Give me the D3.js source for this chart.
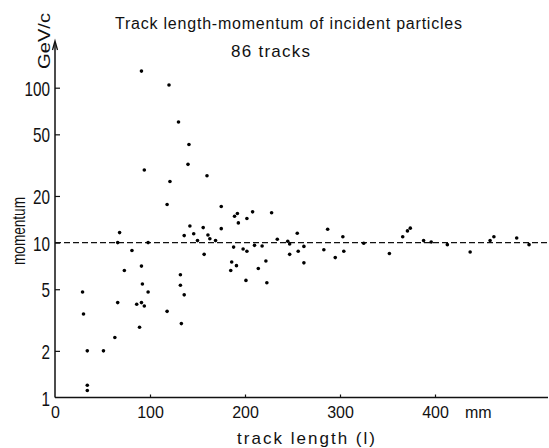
<!DOCTYPE html>
<html>

<head>
    <title>Track length - momentum</title>
    <meta charset="utf-8">
    <style>
        body { margin: 0; background: #fff; }
        svg text { font-family: "Liberation Sans", Arial, sans-serif; fill: #111; }
    </style>
</head>
<script src="https://d3js.org/d3.v7.min.js"></script>

<body>
    <div id="chart"></div>
    <script>
        // track length in mm
        const trackLength = [
            91, 120, 130, 141, 140, 94, 160, 121, 118, 175,
            68, 142, 156, 136, 146, 150, 161, 163, 169, 175,
            189, 192, 193, 202, 208, 228, 81, 157, 91, 73,
            132, 92, 132, 29, 98, 136, 66, 86, 91, 94,
            118, 30, 133, 89, 63, 34, 51, 34, 34, 188,
            198, 202, 210, 218, 234, 245, 247, 255, 262, 256,
            247, 186, 191, 185, 222, 214, 262, 201, 223, 287,
            283, 295, 303, 304, 325, 352, 366, 371, 374, 388,
            396, 413, 437, 458, 462, 486, 499, 66, 98
        ];
        // momentum in GeV/c, same order
        const momentum = [
            128, 104, 60, 43, 32, 29.4, 27, 24.8, 17.6, 17.1,
            11.6, 12.8, 12.5, 11.1, 11.4, 10.3, 11.2, 10.6, 10.3, 12.3,
            14.8, 15.4, 13.4, 14.3, 15.8, 15.6, 8.9, 8.4, 7.05, 6.6,
            6.2, 5.4, 5.3, 4.8, 4.8, 4.6, 4.1, 4.0, 4.1, 3.9,
            3.6, 3.46, 3.0, 2.84, 2.44, 2.0, 2.0, 1.2, 1.11, 9.35,
            9.1, 8.8, 9.6, 9.5, 10.5, 10.2, 9.8, 11.5, 9.45, 8.8,
            8.4, 7.5, 7.1, 6.6, 7.6, 6.8, 7.4, 5.7, 5.5, 12.2,
            9.0, 8.0, 10.9, 8.8, 9.9, 8.5, 10.9, 11.9, 12.4, 10.3,
            10.1, 9.7, 8.7, 10.3, 10.9, 10.7, 9.7, 10.0, 10.0
        ];
        const xTicks = [100, 200, 300, 400];
        const xTickLabels = [0, 100, 200, 300, 400];
        const yTicks = [1, 2, 5, 10, 20, 50, 100];
        const refMomentum = 10;

        const width = 549,
            height = 448;

        var points = trackLength.map(function (l, i) {
            return { length: l, p: momentum[i] };
        });
        console.log("points: " + points.length);

        var svg = d3.select("#chart").append("svg")
            .attr("width", width)
            .attr("height", height);

        var x = d3.scaleLinear().domain([0, 520]).range([55, 549]);
        var y = d3.scaleLog().domain([1, 100]).range([397.5, 87.7]);

        // y axis (ticks point inward)
        var yAxis = svg.append("g")
            .attr("transform", "translate(" + x(0) + ",0)")
            .call(d3.axisLeft(y).tickValues(yTicks).tickSize(-5).tickPadding(5)
                .tickFormat(d3.format("d")));
        yAxis.select(".domain").remove();
        yAxis.selectAll(".tick line").attr("stroke", "#111").attr("stroke-width", 1.2);
        yAxis.selectAll(".tick").filter(function (d) { return d === 1; }).select("line").remove();
        yAxis.selectAll(".tick text")
            .style("font-size", "21px")
            .attr("fill", "#111")
            .attr("dy", "0.36em")
            .attr("lengthAdjust", "spacingAndGlyphs")
            .attr("textLength", function (d) { return String(d).length * 8.5; });

        // x axis
        var xAxis = svg.append("g")
            .attr("transform", "translate(0," + y(1) + ")")
            .call(d3.axisBottom(x).tickValues(xTickLabels).tickSize(-3));
        xAxis.select(".domain").remove();
        xAxis.selectAll(".tick line").attr("stroke", "#111").attr("stroke-width", 1.2)
            .filter(function (d) { return xTicks.indexOf(d) < 0; }).remove();
        xAxis.selectAll(".tick text")
            .style("font-size", "16px")
            .attr("fill", "#111")
            .attr("y", 20)
            .attr("dy", 0);

        // axis lines
        svg.append("line")
            .attr("x1", x(0)).attr("x2", width - 1)
            .attr("y1", y(1)).attr("y2", y(1))
            .attr("stroke", "#111").attr("stroke-width", 1.5);
        svg.append("line")
            .attr("x1", x(0)).attr("x2", x(0))
            .attr("y1", y(1)).attr("y2", 42)
            .attr("stroke", "#111").attr("stroke-width", 1.5);
        // arrow head on the momentum axis
        svg.append("path")
            .attr("d", "M" + (x(0) - 2.5) + ",50 L" + x(0) + ",41 L" + (x(0) + 2.5) + ",50")
            .attr("fill", "none").attr("stroke", "#111").attr("stroke-width", 1.3);

        // dashed reference at 10 GeV/c
        svg.append("line")
            .attr("x1", x(0)).attr("x2", width)
            .attr("y1", y(refMomentum)).attr("y2", y(refMomentum))
            .attr("stroke", "#111").attr("stroke-width", 1.2)
            .attr("stroke-dasharray", "6,3");

        // the tracks
        svg.selectAll("circle")
            .data(points)
            .enter()
            .append("circle")
            .attr("cx", function (d) { return x(d.length); })
            .attr("cy", function (d) { return y(d.p); })
            .attr("r", 1.8)
            .attr("fill", "#000");

        // titles and labels
        svg.append("text")
            .attr("x", 288.5).attr("y", 29)
            .attr("text-anchor", "middle")
            .style("font-size", "16px")
            .attr("textLength", 347)
            .text("Track  length-momentum  of  incident  particles");

        svg.append("text")
            .attr("x", 270.5).attr("y", 57)
            .attr("text-anchor", "middle")
            .style("font-size", "17px")
            .attr("textLength", 79)
            .text("86  tracks");

        svg.append("text")
            .attr("x", 306).attr("y", 444)
            .attr("text-anchor", "middle")
            .style("font-size", "17px")
            .attr("textLength", 138)
            .text("track  length  (l)");

        svg.append("text")
            .attr("x", 465).attr("y", 418)
            .style("font-size", "16px")
            .text("mm");

        svg.append("text")
            .attr("transform", "translate(25,231) rotate(-90)")
            .attr("text-anchor", "middle")
            .style("font-size", "18px")
            .attr("lengthAdjust", "spacingAndGlyphs")
            .attr("textLength", 68)
            .text("momentum");

        svg.append("text")
            .attr("transform", "translate(50,41) rotate(-90)")
            .attr("text-anchor", "middle")
            .style("font-size", "17px")
            .attr("lengthAdjust", "spacingAndGlyphs")
            .attr("textLength", 56)
            .text("GeV/c");
    </script>
</body>

</html>
